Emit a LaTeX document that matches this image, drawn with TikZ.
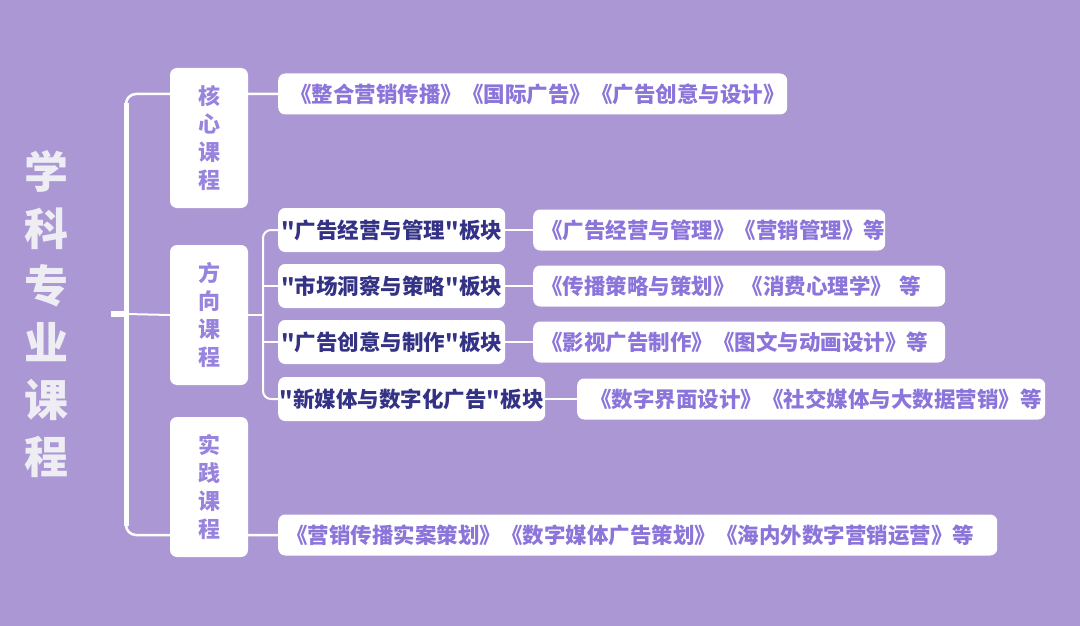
\documentclass[tikz,border=0pt]{standalone}
\usepackage{fontspec}
\setmainfont{Noto Sans CJK SC}[Ligatures=TeXOff]
\usetikzlibrary{positioning,calc,backgrounds}
\definecolor{bgpurple}{RGB}{171,151,212}
\definecolor{catpurple}{RGB}{152,132,222}
\definecolor{leafpurple}{RGB}{140,117,218}
\definecolor{midblue}{RGB}{52,50,132}
\definecolor{titlegray}{RGB}{238,237,243}

\begin{document}
\begin{tikzpicture}[x=1pt, y=-1pt,
    cat/.style={fill=white, rounded corners=7pt, minimum width=78pt, minimum height=140pt, inner sep=0pt, align=center, text=catpurple, font=\fontsize{22}{28}\selectfont\bfseries},
    blk/.style={fill=white, rounded corners=7pt, minimum height=44pt, inner sep=0pt, anchor=west, text=midblue, font=\fontsize{21.5}{24}\selectfont\bfseries},
    crs/.style={blk, minimum height=41pt, inner xsep=8pt, align=left, text=leafpurple, font=\fontsize{21.5}{24}\selectfont\bfseries},
    link/.style={draw=white, line width=2pt}
]
\useasboundingbox (0,0) rectangle (1080,626);

% title
\node[text=titlegray, align=center, font=\fontsize{44}{57}\selectfont\bfseries] (title) at (46,314) {学\\科\\专\\业\\课\\程};

% categories
\node[cat] (core) at (209,138) {核\\心\\课\\程};
\node[cat] (dir) at (209,315) {方\\向\\课\\程};
\node[cat] (prac) at (209,487) {实\\践\\课\\程};

% blocks
\node[blk, minimum width=227pt] (m1) at (278,230) {"广告经营与管理"板块};
\node[blk, minimum width=227pt] (m2) at (278,286) {"市场洞察与策略"板块};
\node[blk, minimum width=227pt] (m3) at (278,342) {"广告创意与制作"板块};
\node[blk, minimum width=267pt] (m4) at (278,399) {"新媒体与数字化广告"板块};

% courses
\node[crs, text width=493pt] (lf1) at (278,94) {\hspace{4pt}《整合营销传播》《国际广告》《广告创意与设计》};
\node[crs, text width=336pt] (lf2) at (533,230) {《广告经营与管理》《营销管理》等};
\node[crs, text width=396pt] (lf3) at (533,286) {《传播策略与策划》 《消费心理学》 等};
\node[crs, text width=396pt] (lf4) at (533,342) {《影视广告制作》《图文与动画设计》等};
\node[crs, text width=452pt] (lf5) at (577,399) {\hspace{5pt}《数字界面设计》《社交媒体与大数据营销》等};
\node[crs, text width=703pt] (lf6) at (278,535) {《营销传播实案策划》《数字媒体广告策划》《海内外数字营销运营》等};

\coordinate (root) at (126,314);
\coordinate (stub) at (111,314);
\coordinate (fork) at (263,315);

\begin{scope}[on background layer]
\fill[bgpurple] (0,0) rectangle (1080,626);
% left bracket
\draw[link, line width=2.5pt, rounded corners=10pt] (lf1.west) -- (lf1.west -| root) -- (lf6.west -| root) -- (lf6.west);
\draw[link, line width=5pt] ($(lf1.west -| root)+(0,9)$) -- ($(lf6.west -| root)+(0,-9)$);
\draw[link, line width=6pt] (stub) -- (root);
\draw[link] (root) -- (dir.west);
% blocks bracket
\draw[link] (dir.east) -- (fork);
\draw[link, rounded corners=8pt] (m1.west) -- (m1.west -| fork) -- (m4.west -| fork) -- (m4.west);
\draw[link] (m2.west -| fork) -- (m2.west);
\draw[link] (m3.west -| fork) -- (m3.west);
% blocks to courses
\draw[link] (m1.east) -- (lf2.west);
\draw[link] (m2.east) -- (lf3.west);
\draw[link] (m3.east) -- (lf4.west);
\draw[link] (m4.east) -- (lf5.west);
\end{scope}
\end{tikzpicture}
\end{document}
